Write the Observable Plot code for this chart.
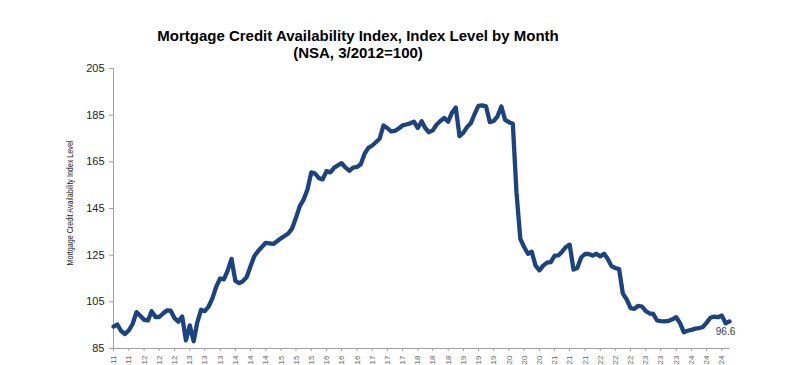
<!DOCTYPE html>
<html>
<head>
<meta charset="utf-8">
<script src="https://cdn.jsdelivr.net/npm/d3@7"></script>
<script src="https://cdn.jsdelivr.net/npm/@observablehq/plot@0.6"></script>
<style>
  html, body { margin: 0; padding: 0; background: #fff; overflow: hidden; }
  #wrap { position: relative; width: 800px; height: 365px; overflow: hidden; }
  #title { position: absolute; left: 0; width: 716px; top: 28px; text-align: center;
    font-family: "Liberation Sans", Arial, sans-serif; font-weight: bold; font-size: 15px; line-height: 16.5px; color: #000; }
  #ylab { position: absolute; left: 70px; top: 203px; transform: translate(-50%, -50%) rotate(-90deg) scaleX(0.84);
    white-space: nowrap; font-family: "Liberation Sans Narrow", "Arial Narrow", "Liberation Sans", sans-serif; font-size: 8.5px; color: #222; }
  #chart { position: absolute; left: 0; top: 0; }
</style>
</head>
<body>
<div id="wrap">
  <div id="chart"></div>
  <div id="title">Mortgage Credit Availability Index, Index Level by Month<br>(NSA, 3/2012=100)</div>
  <div id="ylab">Mortgage Credit Availability Index Level</div>
</div>
<script>
// Monthly index values, May 2011 through Nov 2024
const startMonth = "2011-05-01";
const values = [
  94.4, 95.3, 92.5, 91.2, 92.8, 95.5, 100.6, 99.0, 97.3, 97.0,
  101.0, 98.5, 98.5, 100.0, 101.3, 101.2, 98.0, 96.5, 98.7, 88.5,
  94.9, 88.1, 96.0, 101.6, 101.0, 103.0, 106.5, 111.5, 115.0, 114.6,
  118.5, 123.4, 114.0, 113.0, 113.8, 115.5, 120.0, 124.5, 126.7, 128.5,
  130.3, 130.1, 129.8, 131.0, 132.2, 133.3, 134.3, 136.5, 141.0, 146.0,
  148.8, 153.0, 160.5, 160.0, 158.0, 157.5, 161.0, 160.5, 162.4, 163.5,
  164.4, 162.5, 161.2, 162.5, 162.8, 164.0, 168.5, 171.0, 172.0, 173.5,
  174.9, 180.6, 179.5, 178.0, 178.3, 179.3, 180.6, 181.0, 181.5, 182.2,
  179.5, 182.4, 179.5, 177.7, 178.5, 181.0, 182.5, 183.8, 182.2, 186.0,
  188.3, 176.0, 177.5, 180.0, 181.5, 185.5, 189.0, 189.2, 188.8, 182.0,
  182.5, 184.5, 188.7, 183.0, 182.0, 181.3, 152.0, 132.0, 128.5, 125.6,
  126.5, 120.5, 118.5, 120.5, 121.8, 122.0, 124.8, 124.9, 126.5, 128.5,
  129.5, 118.8, 119.5, 124.0, 125.5, 125.5, 124.8, 125.6, 124.5, 125.6,
  123.5, 120.3, 119.5, 119.0, 108.5, 106.0, 102.3, 102.0, 103.3, 103.0,
  101.0, 100.0, 99.8, 97.0, 96.7, 96.6, 96.8, 97.5, 98.4, 96.0,
  92.0, 92.6, 93.0, 93.5, 93.7, 94.2, 96.0, 98.2, 98.7, 98.4,
  99.1, 95.8, 96.6
];
const yTicks = [85, 105, 125, 145, 165, 185, 205];
const lastLabel = "96.6";

const start = new Date(startMonth + "T00:00:00Z");
const dates = values.map((_, i) => d3.utcMonth.offset(start, i));
const data = values.map((v, i) => ({date: dates[i], value: v}));
const last = data[data.length - 1];

const fmt = d3.utcFormat("%b-%y");

const chart = Plot.plot({
  width: 800,
  height: 400,
  marginLeft: 113,
  marginRight: 71,
  marginTop: 68,
  marginBottom: 52,
  style: {background: "transparent", fontFamily: "Liberation Sans, Arial, sans-serif", overflow: "visible"},
  x: {type: "utc", domain: [dates[0], dates[dates.length - 1]]},
  y: {domain: [85, 205]},
  marks: [
    Plot.axisY({ticks: yTicks, tickSize: 4, tickPadding: 5, fontSize: 11, label: null, color: "#222", stroke: "#a0a0a0"}),
    Plot.axisX({ticks: d3.utcMonth.every(4), tickFormat: fmt, tickSize: 3, tickRotate: -90, fontSize: 8, label: null, color: "#666", stroke: "#a0a0a0", tickPadding: 4}),
    Plot.ruleX([dates[0]], {stroke: "#a0a0a0"}),
    Plot.ruleY([85], {stroke: "#a0a0a0"}),
    Plot.line(data, {x: "date", y: "value", stroke: "#1b4381", strokeWidth: 4.3, strokeLinejoin: "round", strokeLinecap: "round"}),
    Plot.text([last], {x: "date", y: "value", text: () => lastLabel, dy: 10, dx: -4, fontSize: 10, fill: "#404040"})
  ]
});
document.getElementById("chart").appendChild(chart);
</script>
</body>
</html>
